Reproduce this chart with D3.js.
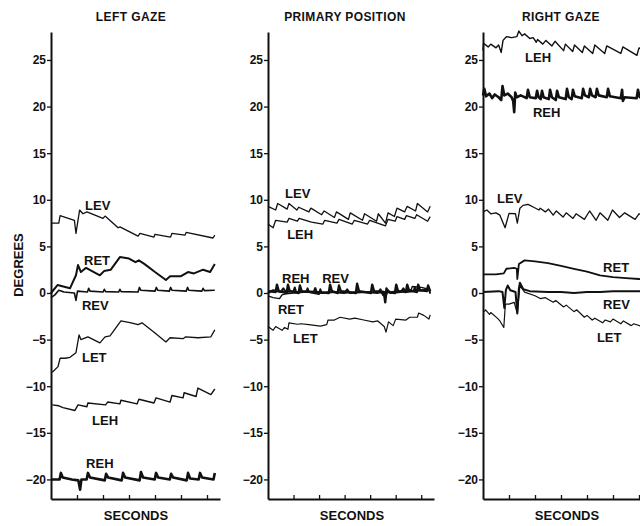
<!DOCTYPE html>
<html><head><meta charset="utf-8">
<script src="https://cdn.jsdelivr.net/npm/d3@7"></script>
<style>
body{margin:0;background:#fff}
svg{display:block}
text{font-family:"Liberation Sans",Arial,Helvetica,sans-serif;font-weight:bold;fill:#111}
</style>
</head><body><svg id="chart" width="640" height="526"></svg>
<script>
// ---------- labels / ticks ----------
const panelTitles = ["LEFT GAZE", "PRIMARY POSITION", "RIGHT GAZE"];
const xAxisTitle = "SECONDS";
const yAxisTitle = "DEGREES";
const yTicks = [-20, -15, -10, -5, 0, 5, 10, 15, 20, 25];
const xTicks = [1, 2, 3, 4, 5, 6];
const yDomain = [-22.1, 28];
const xDomain = [0, 6.5];

// ---------- LEFT GAZE traces [seconds, degrees] ----------
const leftLEV = [[0,7.5],[0.3,7.5],[0.35,8.3],[0.9,7.8],[0.96,6.4],[1.1,8.9],[1.23,8.5],[1.38,8.7],[2.0,8.0],[2.08,8.25],[2.58,7.0],[2.65,7.1],[3.35,6.1],[3.42,6.4],[3.96,6.0],[4.0,6.3],[4.6,6.0],[4.65,6.4],[5.15,6.2],[5.2,6.5],[6.23,5.9],[6.3,6.2]];
const leftRET = [[0,0.0],[0.25,0.85],[0.73,0.5],[0.96,1.9],[1.04,3.0],[1.15,2.25],[1.35,2.7],[1.88,1.9],[2.04,2.35],[2.3,2.5],[2.65,3.85],[3.0,3.7],[3.25,3.3],[3.38,3.5],[3.6,3.1],[4.0,2.25],[4.42,1.4],[4.58,1.8],[5.0,1.8],[5.27,2.25],[5.5,2.1],[5.85,2.5],[6.12,2.25],[6.3,3.1]];
const leftREV = [[0,-0.5],[0.15,-0.2],[0.3,0.3],[0.5,0.1],[0.9,0.0],[0.96,-0.8],[1.02,0.2],[1.4,0.1],[1.45,0.5],[1.5,0.2],[2.0,0.1],[2.05,0.4],[2.1,0.15],[2.6,0.1],[2.65,0.4],[2.7,0.15],[3.35,0.1],[3.4,0.6],[3.45,0.3],[4.0,0.2],[4.05,0.6],[4.1,0.3],[4.55,0.2],[4.6,0.6],[4.65,0.3],[5.2,0.2],[5.25,0.6],[5.3,0.3],[5.8,0.2],[5.85,0.5],[5.9,0.25],[6.3,0.3]];
const leftLET = [[0.05,-8.5],[0.27,-7.9],[0.35,-7.0],[0.55,-7.0],[0.73,-6.9],[0.96,-6.4],[1.08,-4.5],[1.15,-5.0],[1.42,-4.7],[1.88,-5.35],[2.08,-4.7],[2.27,-4.6],[2.69,-3.0],[3.08,-3.2],[3.35,-3.4],[3.5,-3.2],[4.0,-4.3],[4.42,-5.25],[4.58,-4.8],[5.08,-4.9],[5.18,-4.7],[5.65,-4.8],[6.15,-4.7],[6.3,-3.95]];
const leftLEH = [[0.05,-12.0],[0.3,-12.1],[0.46,-12.3],[0.92,-12.6],[1.04,-12.0],[1.38,-12.2],[1.42,-11.8],[2.1,-12.0],[2.18,-11.7],[2.65,-11.9],[2.69,-11.5],[3.31,-11.9],[3.38,-11.4],[3.96,-11.8],[4.04,-11.25],[4.58,-11.7],[4.65,-11.0],[5.08,-11.25],[5.12,-10.7],[5.58,-11.1],[5.65,-10.2],[6.15,-10.9],[6.3,-10.3]];
const leftREH = [[0,-20.0],[0.33,-20.0],[0.38,-19.3],[0.45,-19.8],[0.8,-20.0],[1.05,-20.1],[1.12,-21.1],[1.17,-20.0],[1.37,-20.0],[1.42,-19.3],[1.5,-19.8],[2.07,-20.1],[2.12,-19.4],[2.2,-19.8],[2.72,-20.1],[2.77,-19.3],[2.85,-19.8],[3.41,-20.1],[3.46,-19.2],[3.54,-19.8],[3.99,-20.0],[4.04,-19.3],[4.12,-19.8],[4.57,-20.0],[4.62,-19.4],[4.7,-19.8],[5.22,-20.1],[5.27,-19.3],[5.35,-19.9],[5.68,-20.0],[5.73,-19.3],[5.81,-19.8],[6.25,-20.0],[6.3,-19.3]];

// ---------- PRIMARY POSITION traces ----------
const midLEV = [[0,9.3],[0.3,8.9],[0.38,9.6],[0.75,9.0],[0.82,9.6],[1.13,8.9],[1.2,9.2],[1.6,8.7],[1.68,9.1],[2.1,8.4],[2.2,8.8],[2.6,8.1],[2.68,8.7],[3.15,7.9],[3.22,8.6],[3.7,7.8],[3.78,8.5],[4.25,7.7],[4.32,8.5],[4.6,7.5],[4.7,8.6],[4.95,8.2],[5.05,9.1],[5.35,8.7],[5.45,9.3],[5.78,8.8],[5.85,9.6],[6.25,8.7],[6.35,9.3]];
const midLEH = [[0,7.4],[0.2,7.0],[0.3,7.8],[0.75,7.6],[0.82,8.0],[1.15,7.7],[1.22,8.0],[1.7,7.6],[2.15,7.4],[2.22,7.8],[2.7,7.5],[2.78,7.9],[3.3,7.4],[3.38,7.8],[3.9,7.4],[3.98,7.8],[4.6,7.2],[4.7,7.9],[4.98,7.7],[5.05,8.2],[5.35,7.9],[5.42,8.3],[5.75,8.0],[5.82,8.4],[6.25,7.7],[6.35,8.2]];
const midREH = [[0,0.2],[0.3,0.1],[0.35,0.9],[0.42,0.2],[0.73,0.0],[0.78,0.9],[0.85,0.2],[1.2,0.0],[1.25,0.8],[1.32,0.2],[1.8,0.1],[1.85,0.5],[1.9,0.1],[2.38,0.0],[2.43,0.9],[2.5,0.2],[2.73,0.0],[2.78,0.8],[2.85,0.2],[3.44,0.0],[3.49,1.0],[3.56,0.2],[4.03,0.0],[4.08,0.9],[4.15,0.2],[4.54,0.1],[4.59,-1.0],[4.64,0.5],[4.7,0.1],[4.97,0.0],[5.02,0.9],[5.09,0.2],[5.4,0.1],[5.45,0.9],[5.52,0.3],[5.83,0.1],[5.88,0.9],[5.95,0.3],[6.22,0.2],[6.27,0.8],[6.35,0.2]];
const midREV = [[0,0.0],[0.2,0.3],[0.5,0.1],[0.6,0.5],[0.7,0.1],[1.0,0.2],[1.05,0.6],[1.1,0.1],[1.5,0.1],[1.55,0.5],[1.6,0.1],[2.0,-0.1],[2.05,0.4],[2.1,0.0],[2.6,0.1],[3.0,0.0],[3.1,0.4],[3.2,0.0],[3.8,0.1],[4.3,0.0],[4.4,0.4],[4.5,-0.2],[4.6,-0.4],[4.7,0.3],[4.8,0.0],[5.2,0.1],[5.3,0.5],[5.4,0.1],[5.7,0.2],[5.75,0.6],[5.8,0.2],[6.3,0.4],[6.35,0.0]];
const midRET = [[0,-0.3],[0.2,-0.5],[0.45,-0.6],[0.55,-0.2],[0.7,-0.1],[1.0,0.0],[1.5,0.1],[2.0,0.0],[2.5,0.1],[3.0,0.0],[3.5,0.1],[4.0,0.1],[4.5,0.0],[5.0,0.2],[5.6,0.3],[5.65,0.7],[6.0,0.6],[6.3,0.4],[6.35,-0.1]];
const midLET = [[0,-3.6],[0.2,-4.0],[0.3,-3.6],[0.55,-4.0],[0.65,-3.7],[0.78,-3.9],[0.82,-3.2],[1.15,-3.35],[1.3,-3.3],[1.6,-3.4],[2.05,-3.55],[2.3,-3.4],[2.35,-2.9],[2.6,-2.9],[2.82,-2.6],[3.2,-2.8],[3.4,-2.7],[3.75,-2.9],[4.1,-3.1],[4.3,-3.0],[4.55,-3.6],[4.62,-4.2],[4.72,-3.1],[4.9,-3.5],[5.0,-2.8],[5.4,-2.9],[5.55,-2.6],[5.85,-2.6],[5.9,-2.15],[6.1,-2.4],[6.3,-2.8],[6.35,-2.35]];

// ---------- RIGHT GAZE traces ----------
const rightLEH = [[0,26.0],[0.02,26.8],[0.2,26.4],[0.3,26.7],[0.5,26.3],[0.6,26.6],[0.7,25.8],[0.77,27.1],[0.9,27.5],[1.1,27.4],[1.3,27.5],[1.38,28.1],[1.5,27.6],[1.6,27.8],[1.8,27.3],[1.93,27.4],[2.05,26.9],[2.1,27.2],[2.3,26.7],[2.42,27.1],[2.65,26.5],[2.77,27.0],[3.1,26.0],[3.17,26.7],[3.45,25.9],[3.52,26.6],[3.82,25.8],[3.9,26.5],[4.22,25.7],[4.3,26.6],[4.68,25.7],[4.76,26.5],[5.3,25.7],[5.38,26.4],[5.92,25.5],[6.0,26.3],[6.5,25.6]];
const rightREH = [[0,21.2],[0.05,21.9],[0.12,21.1],[0.25,21.4],[0.35,20.9],[0.45,21.3],[0.6,21.0],[0.7,20.7],[0.75,22.2],[0.82,21.2],[0.95,21.4],[1.1,21.0],[1.16,20.6],[1.2,19.4],[1.24,21.5],[1.3,21.0],[1.45,21.2],[1.68,20.9],[1.73,21.8],[1.8,21.0],[2.03,20.9],[2.08,21.7],[2.14,21.0],[2.22,20.8],[2.27,21.7],[2.33,21.0],[2.53,20.8],[2.58,21.8],[2.65,21.0],[2.8,20.7],[2.85,21.7],[2.92,21.0],[3.18,20.8],[3.23,21.9],[3.3,21.0],[3.41,20.8],[3.46,21.8],[3.53,21.1],[3.8,20.9],[3.85,21.9],[3.92,21.2],[4.07,21.0],[4.12,21.9],[4.19,21.2],[4.33,21.0],[4.38,21.9],[4.45,21.2],[4.76,21.0],[4.81,21.9],[4.88,21.1],[5.3,20.9],[5.35,21.8],[5.38,20.6],[5.45,21.0],[5.91,20.9],[5.96,21.8],[6.03,21.0],[6.3,21.0]];
const rightLEV = [[0,8.7],[0.15,8.9],[0.3,8.5],[0.5,8.6],[0.65,8.35],[0.85,7.0],[1.0,8.55],[1.25,8.5],[1.32,7.5],[1.42,9.1],[1.54,9.4],[1.73,9.5],[1.95,9.2],[2.15,8.9],[2.2,9.1],[2.4,8.7],[2.52,9.0],[2.7,8.35],[2.82,8.8],[3.08,8.15],[3.2,8.6],[3.46,8.0],[3.58,8.5],[3.9,7.9],[4.1,8.8],[4.35,7.8],[4.5,8.6],[4.8,7.8],[4.98,8.9],[5.25,8.1],[5.45,8.6],[5.85,7.9],[6.0,8.5],[6.3,8.2],[6.5,8.6]];
const rightRET = [[0,2.0],[0.5,2.0],[0.8,2.1],[0.9,2.6],[1.2,2.7],[1.3,2.6],[1.32,1.5],[1.38,3.1],[1.6,3.5],[2.0,3.4],[2.5,3.2],[3.0,2.9],[3.5,2.6],[4.0,2.3],[4.5,1.9],[5.0,1.7],[5.5,1.6],[6.0,1.5],[6.5,1.4]];
const rightREV = [[0,0.1],[0.6,0.2],[0.75,0.1],[0.82,-1.6],[0.88,0.3],[0.95,0.8],[1.05,0.3],[1.25,0.1],[1.32,-2.2],[1.38,0.5],[1.42,1.1],[1.55,0.4],[1.8,0.2],[2.5,0.1],[3.0,0.1],[3.5,0.0],[4.0,0.1],[4.5,0.1],[5.0,0.2],[5.5,0.2],[6.0,0.2],[6.5,0.2]];
const rightLET = [[0.05,-2.0],[0.1,-1.8],[0.25,-2.3],[0.3,-2.1],[0.55,-2.7],[0.65,-3.0],[0.8,-3.7],[0.86,-1.2],[1.0,-1.2],[1.2,-1.0],[1.32,-2.2],[1.42,0.8],[1.6,0.1],[2.0,-0.3],[2.2,-0.6],[2.4,-0.5],[2.7,-1.0],[2.8,-0.8],[3.1,-1.5],[3.2,-1.3],[3.5,-2.0],[3.6,-1.8],[3.9,-2.6],[4.0,-2.4],[4.2,-2.9],[4.3,-2.7],[4.6,-3.2],[4.7,-2.9],[4.9,-3.1],[5.0,-2.8],[5.3,-3.3],[5.4,-3.0],[5.7,-3.5],[5.8,-3.3],[6.1,-3.6],[6.2,-3.3],[6.5,-3.5]];

// ---------- layout ----------
const layout = [
  {x0: 51,  x1: 220, titleX: 131, secX: 136,
   series: [
     {name:"LEV", data:leftLEV, w:1.3, lab:[1.31, 8.9]},
     {name:"RET", data:leftRET, w:2.0, lab:[1.27, 3.0]},
     {name:"REV", data:leftREV, w:1.6, lab:[1.19, -1.8]},
     {name:"LET", data:leftLET, w:1.3, lab:[1.19, -7.4]},
     {name:"LEH", data:leftLEH, w:1.4, lab:[1.58, -14.2]},
     {name:"REH", data:leftREH, w:2.6, lab:[1.35, -18.8]}]},
  {x0: 268, x1: 434, titleX: 345, secX: 352,
   series: [
     {name:"LEV", data:midLEV, w:1.3, lab:[0.67, 10.2]},
     {name:"LEH", data:midLEH, w:1.3, lab:[0.75, 5.8]},
     {name:"RET", data:midRET, w:1.4, lab:[0.39, -2.25]},
     {name:"REV", data:midREV, w:2.0, lab:[2.12, 1.07]},
     {name:"REH", data:midREH, w:2.4, lab:[0.55, 1.07]},
     {name:"LET", data:midLET, w:1.2, lab:[0.98, -5.36]}]},
  {x0: 483, x1: 652, titleX: 561, secX: 567,
   series: [
     {name:"LEH", data:rightLEH, w:1.4, lab:[1.62, 24.8]},
     {name:"REH", data:rightREH, w:2.6, lab:[1.92, 18.9]},
     {name:"LEV", data:rightLEV, w:1.3, lab:[0.54, 9.66]},
     {name:"RET", data:rightRET, w:1.8, lab:[4.62, 2.25]},
     {name:"REV", data:rightREV, w:2.0, lab:[4.62, -1.72]},
     {name:"LET", data:rightLET, w:1.2, lab:[4.38, -5.26]}]}
];

const svg = d3.select("#chart");
const y = d3.scaleLinear().domain(yDomain).range([499, 32]);
const ink = "#111";

layout.forEach((p, i) => {
  const x = d3.scaleLinear().domain(xDomain).range([p.x0, p.x1]);
  const g = svg.append("g");

  // title
  g.append("text").attr("x", p.titleX).attr("y", 21).attr("text-anchor", "middle")
    .attr("font-size", 12).attr("letter-spacing", 0.4).text(panelTitles[i]);

  // y axis
  const ya = g.append("g").attr("transform", `translate(${p.x0},0)`)
    .call(d3.axisLeft(y).tickValues(yTicks).tickSize(4).tickPadding(1).tickSizeOuter(0));
  ya.select(".domain").attr("stroke", ink).attr("stroke-width", 2);
  ya.selectAll(".tick line").attr("stroke", ink).attr("stroke-width", 1.3);
  ya.selectAll(".tick text").attr("font-size", 12).attr("font-family", '"Liberation Sans",Arial,sans-serif')
    .attr("font-weight", "bold").attr("fill", ink);

  // x axis
  const xa = g.append("g").attr("transform", `translate(0,499)`)
    .call(d3.axisBottom(x).tickValues(xTicks).tickSizeInner(-4).tickSizeOuter(0).tickFormat(""));
  xa.select(".domain").attr("stroke", ink).attr("stroke-width", 2);
  xa.selectAll(".tick line").attr("stroke", ink).attr("stroke-width", 1.3);

  g.append("text").attr("x", p.secX).attr("y", 520).attr("text-anchor", "middle")
    .attr("font-size", 13).text(xAxisTitle);

  const line = d3.line().x(d => x(d[0])).y(d => y(d[1]));
  p.series.forEach(s => {
    g.append("path").datum(s.data).attr("d", line).attr("fill", "none")
      .attr("stroke", ink).attr("stroke-width", s.w).attr("stroke-linejoin", "round");
    g.append("text").attr("x", x(s.lab[0])).attr("y", y(s.lab[1]))
      .attr("font-size", 13).text(s.name);
  });
});

svg.append("text").attr("transform", "translate(23,265) rotate(-90)")
  .attr("text-anchor", "middle").attr("font-size", 13).text(yAxisTitle);
</script>
</body></html>
